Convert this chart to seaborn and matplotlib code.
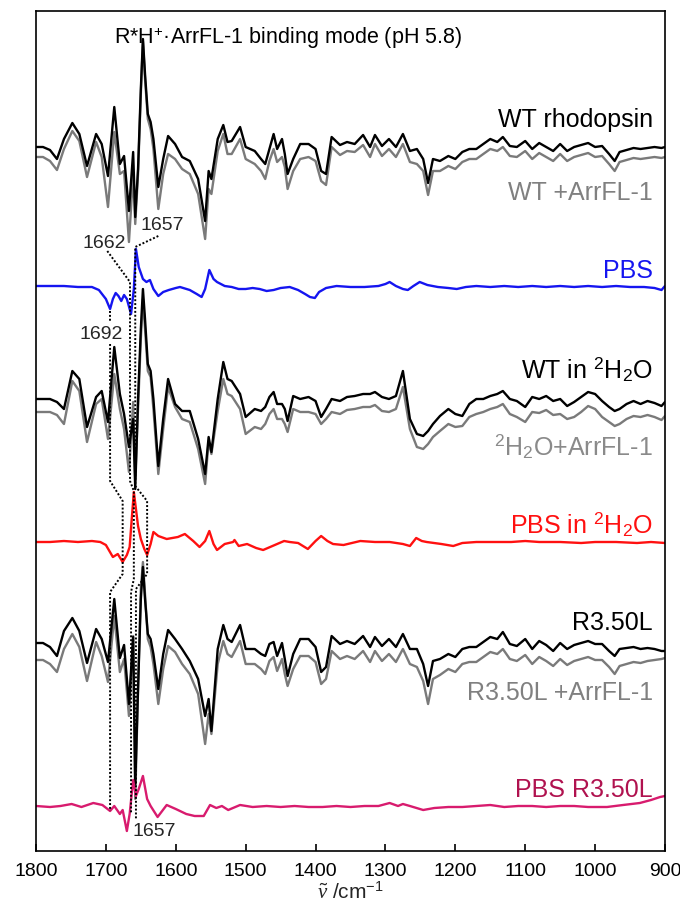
import numpy as np
import pandas as pd
import matplotlib
matplotlib.use("Agg")
import matplotlib.pyplot as plt
import matplotlib.transforms as mtransforms
import seaborn as sns

# ---------------- data (difference spectra, arbitrary units, positive up) -------------
wavenumber = [1800, 1790, 1780, 1770, 1760, 1748, 1738, 1727, 1714, 1706,
              1697, 1688, 1680, 1674, 1667, 1661, 1658, 1654, 1650, 1647,
              1644, 1640, 1636, 1632, 1625, 1618, 1611, 1601, 1591, 1580,
              1568, 1558, 1553, 1549, 1540, 1532, 1526, 1520, 1508, 1500,
              1487, 1478, 1472, 1466, 1460, 1455, 1448, 1444, 1440, 1432,
              1422, 1410, 1400, 1392, 1385, 1377, 1365, 1355, 1344, 1332,
              1322, 1315, 1305, 1295, 1285, 1275, 1265, 1255, 1246, 1239,
              1232, 1222, 1210, 1200, 1190, 1180, 1170, 1160, 1150, 1140,
              1132, 1122, 1112, 1100, 1090, 1080, 1070, 1060, 1050, 1040,
              1030, 1020, 1010, 1000, 990, 980, 972, 965, 955, 945,
              935, 925, 915, 905, 900]

wt_rhodopsin = [0, 0, -3, -12, 8, 24, 13, -19, 13, 3,
                -29, 40, -17, -9, -64, -5, -70, -22, 58, 108,
                73, 33, 25, 8, -40, -12, 11, 3, -10, -14,
                -32, -74, -24, -32, 8, 22, 5, 6, 20, 0,
                -4, -12, -17, -2, 13, -2, 8, -7, -27, -12,
                3, 3, -2, -24, -27, 10, 2, 5, 3, 12,
                0, 12, 1, 8, 0, 13, -4, -2, -12, -36,
                -12, -14, -9, -12, -5, -2, -2, 3, 8, 5,
                10, 1, 0, 6, -2, 4, 0, -4, 3, -4,
                0, 2, 4, 0, 1, -7, -14, -5, -3, -1,
                -2, -1, 0, -1, 0]

wt_arrfl = [0, 0, -4, -13, 8, 26, 16, -20, 15, 0,
            -50, 25, -17, -14, -85, -17, -67, -17, 63, 116,
            78, 38, 28, 8, -52, -17, 3, -2, -12, -17,
            -37, -82, -32, -37, 6, 23, 3, 3, 18, -2,
            -7, -14, -22, -4, 8, -5, 0, -10, -32, -14,
            -2, 0, -4, -24, -28, 10, 2, 6, 5, 12,
            0, 13, 1, 8, 0, 13, -5, -7, -14, -38,
            -14, -14, -9, -12, -5, -2, -2, 3, 8, 6,
            10, 1, 0, 6, -2, 4, 0, -4, 3, -4,
            0, 2, 4, 0, 1, -7, -14, -5, -3, -1,
            -2, -1, 0, -1, 0]

wt_d2o = [0, 0, 0, -3, -10, 28, 20, -28, 2, 8,
          -23, 52, 5, -15, -48, -20, -90, 0, 70, 110,
          80, 35, 28, 0, -67, -20, 20, -5, -12, -12,
          -40, -75, -38, -53, 0, 37, 20, 18, 5, -18,
          -10, -12, -8, 2, 7, -5, -5, -10, -22, 3,
          0, 2, -2, -18, -10, 0, -2, 2, 3, 5,
          5, 7, 2, 0, 3, 28, -20, -35, -37, -32,
          -25, -17, -10, -15, -17, -5, 0, 0, 3, 5,
          8, 0, -2, -8, 2, 0, 3, -2, 0, -7,
          -3, 2, 7, 5, -2, -8, -12, -10, -5, -2,
          -5, -2, -4, -7, -3]

d2o_arrfl = [0, 0, 0, -3, -12, 31, 21, -30, 8, 13,
             -27, 38, 3, -17, -60, 10, -67, 3, 73, 113,
             83, 41, 35, 3, -62, -17, 25, 5, -7, -10,
             -37, -72, -29, -42, 1, 33, 18, 16, 3, -22,
             -15, -17, -12, -2, 3, -7, -7, -12, -20, 3,
             0, 0, -2, -12, -7, 0, -2, 2, 3, 5,
             5, 7, 1, 0, 3, 25, -17, -35, -37, -32,
             -25, -19, -12, -15, -14, -5, -2, 0, 3, 5,
             8, -2, -5, -10, 0, -1, 2, -3, -2, -7,
             -5, 0, 6, 3, -5, -10, -14, -12, -7, -4,
             -5, -3, -5, -8, -4]

r350l = [0, 0, -4, -13, 12, 25, 12, -20, 14, 4,
         -19, 44, -15, -2, -61, 6, -141, -46, 44, 76,
         44, 9, 4, -11, -46, -11, 13, 4, -6, -18,
         -36, -73, -56, -88, -6, 18, 4, 1, 18, -6,
         -6, -11, -13, -1, 1, -13, 0, -16, -33, -11,
         4, 4, -4, -29, -24, 7, -1, 2, -1, 7,
         -4, 6, -3, 4, -4, 9, -6, -6, -21, -43,
         -18, -16, -11, -14, -6, -4, -4, 1, 6, 4,
         11, -1, -3, 4, -6, 2, -2, -8, 0, -6,
         -2, 0, 2, -1, -1, -8, -13, -6, -5, -4,
         -6, -5, -6, -8, -8]

r350l_arrfl = [0, 0, -4, -12, 11, 26, 13, -21, 18, 4,
               -22, 44, -12, 1, -56, 24, -139, -29, 71, 98,
               66, 21, 13, -4, -44, -9, 14, 8, -4, -14,
               -34, -84, -54, -74, -4, 19, 6, 3, 19, -4,
               -4, -9, -14, -1, 3, -11, 1, -14, -26, -9,
               4, 4, -2, -24, -19, 9, 1, 4, 1, 9,
               -2, 9, -1, 6, -2, 11, -4, -7, -21, -44,
               -19, -15, -9, -12, -4, -2, -2, 3, 8, 6,
               11, 1, -1, 5, -4, 3, -1, -6, 1, -5,
               -1, 1, 3, 0, 0, -7, -14, -6, -4, -2,
               -3, -1, 0, 1, 2]

pbs_wn = [1800, 1780, 1760, 1740, 1720, 1710, 1700, 1694, 1690, 1686,
          1682, 1678, 1674, 1670, 1664, 1660, 1657, 1653, 1647, 1642,
          1637, 1632, 1625, 1618, 1610, 1600, 1594, 1580, 1570, 1563,
          1558, 1552, 1546, 1541, 1530, 1520, 1510, 1500, 1490, 1480,
          1470, 1460, 1450, 1437, 1425, 1415, 1408, 1401, 1395, 1385,
          1370, 1350, 1330, 1310, 1300, 1294, 1285, 1275, 1268, 1260,
          1251, 1240, 1225, 1210, 1198, 1185, 1170, 1150, 1130, 1110,
          1090, 1070, 1050, 1030, 1010, 990, 970, 950, 930, 915,
          905, 900]
pbs = [0, 0, 0, -1, -1, -4, -13, -23, -13, -7,
       -10, -15, -9, -13, -28, -3, 37, 19, 7, 4,
       6, -3, -10, -6, -4, -2, -1, -4, -8, -11,
       -3, 16, 7, 4, 0, -1, -3, -3, -2, -3,
       -5, -4, -2, -1, -4, -8, -11, -12, -6, -2,
       0, -1, -1, 0, 2, 4, 0, -3, -4, 0,
       4, 1, -1, -2, -3, -1, 0, -1, 0, -1,
       0, -1, 0, -1, 0, -1, 0, -1, -1, -2,
       -4, 0]

pbs_d2o_wn = [1800, 1780, 1760, 1740, 1720, 1708, 1700, 1690, 1683, 1676,
              1670, 1666, 1663, 1660, 1657, 1654, 1650, 1645, 1641, 1636,
              1632, 1625, 1613, 1605, 1597, 1587, 1575, 1566, 1558, 1552,
              1546, 1541, 1530, 1518, 1516, 1510, 1498, 1485, 1475, 1465,
              1455, 1445, 1437, 1425, 1411, 1400, 1392, 1383, 1375, 1360,
              1336, 1315, 1294, 1275, 1265, 1256, 1248, 1241, 1220, 1203,
              1190, 1170, 1150, 1120, 1100, 1080, 1050, 1020, 1000, 970,
              940, 920, 900]
pbs_d2o = [0, 0, 1, 0, 1, 0, -3, -15, -12, -20,
           -13, -5, 23, 50, 33, 16, 3, -7, -13, -2,
           10, 6, 3, 4, 5, 8, 1, -5, 1, 11,
           -2, -8, -2, 0, 2, -4, -2, -6, -8, -5,
           -2, 1, 0, -1, -7, 1, 6, 1, -2, -3,
           1, 0, 0, -2, -4, 4, 1, 0, -2, -4,
           -1, 0, 0, 0, 1, 0, 0, -1, 0, 0,
           -1, 0, -1]

pbs_r350l_wn = [1800, 1780, 1765, 1749, 1735, 1718, 1705, 1694, 1688, 1680,
                1676, 1670, 1666, 1661, 1657, 1653, 1647, 1641, 1636, 1626,
                1613, 1600, 1585, 1573, 1560, 1551, 1542, 1534, 1525, 1508,
                1490, 1470, 1450, 1430, 1410, 1390, 1370, 1350, 1330, 1310,
                1294, 1282, 1275, 1265, 1246, 1230, 1210, 1190, 1170, 1150,
                1130, 1110, 1090, 1070, 1050, 1030, 1010, 983, 960, 936,
                920, 907, 900]
pbs_r350l = [0, -1, 0, 2, -1, 3, 1, -5, 0, -8,
             -4, -25, -8, 26, 10, 17, 30, 7, 0, -11,
             1, -3, -8, -10, -10, 1, -2, 0, -4, 1,
             -1, 0, -1, 0, -1, -1, 0, -1, 0, 0,
             3, 0, 2, 0, -4, -2, -1, -1, 0, 1,
             -1, 0, 0, -1, 0, 0, -1, -1, 1, 3,
             6, 9, 10]

labels = ["WT rhodopsin", "WT +ArrFL-1", "PBS",
          r"WT in $^{2}$H$_{2}$O", r"$^{2}$H$_{2}$O+ArrFL-1", r"PBS in $^{2}$H$_{2}$O",
          "R3.50L", "R3.50L +ArrFL-1", "PBS R3.50L"]
band_labels = ["1662", "1657", "1692", "1657"]
xticks = [1800, 1700, 1600, 1500, 1400, 1300, 1200, 1100, 1000, 900]

# ---------------- layout / style ----------------
traces = [
    ("wt_arrfl", wavenumber, wt_arrfl, 694, "#7a7a7a"),
    ("wt", wavenumber, wt_rhodopsin, 704, "#000000"),
    ("pbs", pbs_wn, pbs, 565, "#1515f0"),
    ("d2o_arrfl", wavenumber, d2o_arrfl, 439, "#7a7a7a"),
    ("d2o", wavenumber, wt_d2o, 452, "#000000"),
    ("pbs_d2o", pbs_d2o_wn, pbs_d2o, 309, "#ff1010"),
    ("r350l_arrfl", wavenumber, r350l_arrfl, 191, "#7a7a7a"),
    ("r350l", wavenumber, r350l, 208, "#000000"),
    ("pbs_r350l", pbs_r350l_wn, pbs_r350l, 45, "#d81b6e"),
]

rows = []
for key, xs, ys, off, col in traces:
    assert len(xs) == len(ys), (key, len(xs), len(ys))
    for x, y in zip(xs, ys):
        rows.append({"wn": x, "dA": y + off, "trace": key})
df = pd.DataFrame(rows)

sns.set_style("white")
plt.rcParams["font.family"] = ["Liberation Sans", "DejaVu Sans"]
plt.rcParams["mathtext.fontset"] = "custom"
plt.rcParams["mathtext.rm"] = "Liberation Sans"
plt.rcParams["mathtext.it"] = "Liberation Serif:italic"
plt.rcParams["mathtext.bf"] = "Liberation Sans:bold"
plt.rcParams["mathtext.sf"] = "Liberation Sans"
plt.rcParams["lines.solid_joinstyle"] = "round"
plt.rcParams["lines.solid_capstyle"] = "round"

fig = plt.figure(figsize=(6.8, 9.04), dpi=100)
ax = fig.add_axes([36 / 680, 52 / 904, 629 / 680, 840 / 904])

palette = {k: c for k, _, _, _, c in traces}
sns.lineplot(data=df, x="wn", y="dA", hue="trace", hue_order=[t[0] for t in traces],
             palette=palette, estimator=None, sort=False, legend=False,
             linewidth=1.7, ax=ax)
for ln in ax.get_lines():
    ln.set_solid_joinstyle("round")

ax.set_xlim(1800, 900)
ax.set_ylim(0, 840)
ax.set_xticks(xticks)
ax.set_xticklabels([str(t) for t in xticks])
ax.set_yticks([])
ax.tick_params(axis="x", direction="in", length=5, width=1.2, pad=8,
               labelsize=14, bottom=True, top=False, colors="black")
for s in ax.spines.values():
    s.set_color("black")
    s.set_linewidth(1.2)
ax.set_xlabel(r"$\tilde{\nu}$ /cm$^{-1}$", fontsize=15, labelpad=1)
ax.set_ylabel("")

# dotted guide lines for the amide I bands
dot = dict(color="black", lw=1.4, ls=(0, (1.0, 1.0)))
ax.plot([1694, 1694], [540, 529], **dot)
ax.plot([1694, 1694, 1676, 1676, 1694, 1694], [507, 370, 350, 277, 259, 40], **dot)
ax.plot([1698, 1665.5, 1665.5, 1660, 1660, 1664, 1664], [600, 569, 370, 360, 272, 259, 37], **dot)
ax.plot([1625, 1658, 1658, 1641, 1641, 1657, 1657], [615, 604, 365, 350, 277, 262, 32], **dot)

ax.text(1703, 608, band_labels[0], fontsize=14, ha="center", va="center")
ax.text(1620, 626, band_labels[1], fontsize=14, ha="center", va="center")
ax.text(1707, 517, band_labels[2], fontsize=14, ha="center", va="center")
ax.text(1631, 20, band_labels[3], fontsize=14, ha="center", va="center")

# trace labels
blend = mtransforms.blended_transform_factory(ax.transAxes, ax.transData)
lab_x = (653 - 36) / 629
label_style = [(725, "black"), (652, "#808080"), (574, "#1515f0"),
               (474, "black"), (397, "#8a8a8a"), (319, "#ff1010"),
               (222, "black"), (152, "#808080"), (55, "#b0124f")]
for text, (yb, col) in zip(labels, label_style):
    ax.text(lab_x, yb, text, transform=blend,
            ha="right", va="baseline", fontsize=18, color=col)

ax.text((288 - 36) / 629, 814, r"R*H$^{+}$·ArrFL-1 binding mode (pH 5.8)",
        transform=blend, ha="center", va="center", fontsize=15.5, color="black")

fig.savefig("out.png", dpi=100)
